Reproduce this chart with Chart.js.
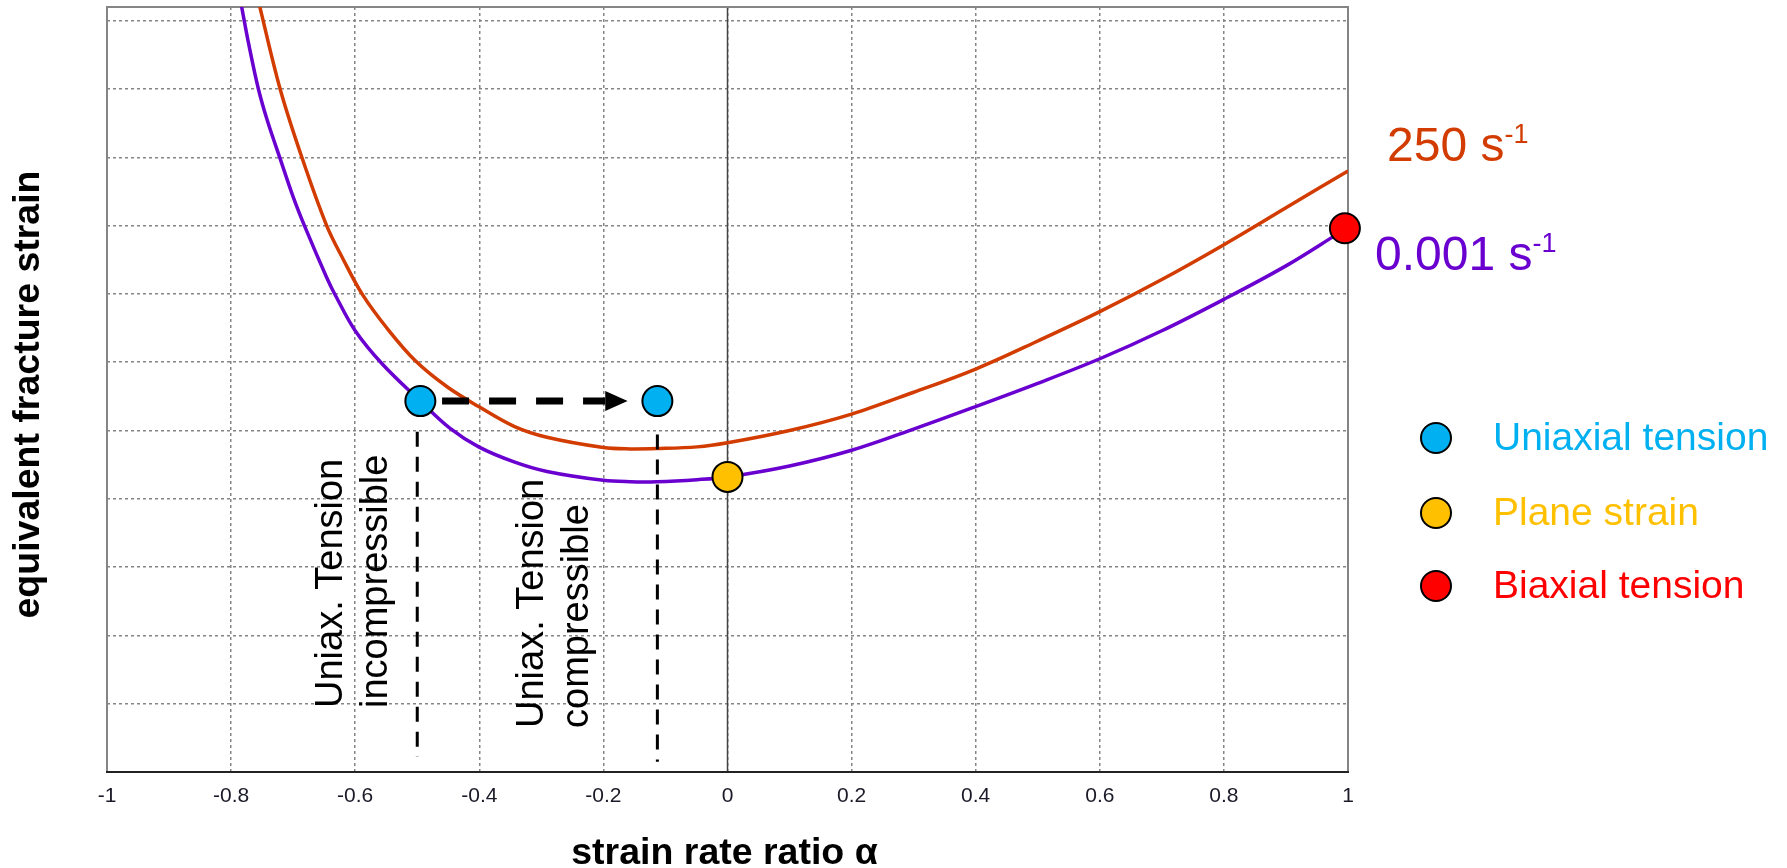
<!DOCTYPE html>
<html>
<head>
<meta charset="utf-8">
<script src="https://cdn.jsdelivr.net/npm/chart.js@4.4.1/dist/chart.umd.min.js"></script>
<style>
  html, body { margin: 0; padding: 0; background: #fff; }
  #wrap { width: 1787px; height: 868px; }
</style>
</head>
<body>
<div id="wrap"><canvas id="chart" width="1787" height="868"></canvas></div>
<script>
// curves: strain rate ratio alpha vs equivalent fracture strain (grid units)
const alphaSlow = [-0.784, -0.771, -0.756, -0.742, -0.721, -0.70, -0.681, -0.646, -0.632, -0.60, -0.556,
  -0.495, -0.447, -0.401, -0.344, -0.291, -0.2, -0.157, -0.114, -0.049, 0, 0.1, 0.2, 0.3, 0.4, 0.5,
  0.6, 0.7, 0.8, 0.9, 0.98, 0.995];
const strainSlow = [11.25, 10.63, 10.0, 9.55, 8.98, 8.42, 7.98, 7.24, 6.98, 6.46, 5.97,
  5.43, 5.03, 4.76, 4.54, 4.40, 4.27, 4.25, 4.25, 4.28, 4.32, 4.48, 4.71, 5.02, 5.35, 5.69,
  6.05, 6.46, 6.92, 7.41, 7.86, 7.95];

const alphaFast = [-0.755, -0.721, -0.686, -0.646, -0.619, -0.589, -0.549, -0.503, -0.452, -0.401, -0.344,
  -0.291, -0.2, -0.157, -0.114, -0.049, 0, 0.1, 0.2, 0.3, 0.4, 0.5, 0.6, 0.7, 0.8, 0.9, 1.0];
const strainFast = [11.25, 10.0, 9.0, 8.0, 7.5, 7.0, 6.5, 6.02, 5.64, 5.35, 5.06,
  4.90, 4.75, 4.73, 4.735, 4.76, 4.82, 5.0, 5.24, 5.56, 5.90, 6.31, 6.74, 7.21, 7.72, 8.26, 8.80];

// marked loading states
const uniaxialAlpha = [-0.495, -0.113];
const uniaxialStrain = [5.43, 5.43];
const planeAlpha = [0];
const planeStrain = [4.32];
const biaxialAlpha = [0.995];
const biaxialStrain = [7.96];

// dashed guides and the shift arrow
const guideLeftAlpha = [-0.5, -0.5];
const guideLeftStrain = [4.98, 0.22];
const guideRightAlpha = [-0.113, -0.113];
const guideRightStrain = [4.94, 0.15];
const arrowAlpha = [-0.46, -0.197];
const arrowStrain = [5.43, 5.43];
const arrowTipAlpha = -0.161;

const xTickValues = [-1, -0.8, -0.6, -0.4, -0.2, 0, 0.2, 0.4, 0.6, 0.8, 1];
const xTickLabels = ['-1', '-0.8', '-0.6', '-0.4', '-0.2', '0', '0.2', '0.4', '0.6', '0.8', '1'];
const yGridValues = [1, 2, 3, 4, 5, 6, 7, 8, 9, 10, 11];

const rateLabels = ['250', '0.001'];
const legendLabels = ['Uniaxial tension', 'Plane strain', 'Biaxial tension'];

const PURPLE = '#6A00D0';
const ORANGE = '#D23C00';
const BLUE = '#00B0F0';
const YELLOW = '#FFC000';
const RED = '#FF0000';
const GRID = '#858585';
const SANS = '"Liberation Sans", Arial, sans-serif';

const pts = (xs, ys) => xs.map((x, i) => ({ x: x, y: ys[i] }));

function marker(label, xs, ys, color) {
  return {
    label: label, data: pts(xs, ys), backgroundColor: color, borderColor: '#000',
    borderWidth: 2, pointRadius: 15, pointHoverRadius: 15, clip: false, order: 0
  };
}

function dashed(label, xs, ys, width, dash) {
  return {
    type: 'line', label: label, data: pts(xs, ys), borderColor: '#000', borderWidth: width,
    borderDash: dash, pointRadius: 0, fill: false, order: 1
  };
}

function curve(label, xs, ys, color) {
  return {
    type: 'line', label: label, data: pts(xs, ys), borderColor: color, borderWidth: 3.5,
    pointRadius: 0, fill: false, tension: 0.35, order: 2
  };
}

// plot frame and solid alpha = 0 line, under the data
const framePlugin = {
  id: 'frame',
  beforeDatasetsDraw(chart) {
    const { ctx, chartArea: a, scales } = chart;
    ctx.save();
    ctx.strokeStyle = '#444';
    ctx.lineWidth = 1.5;
    const x0 = scales.x.getPixelForValue(0);
    ctx.beginPath();
    ctx.moveTo(x0, a.top);
    ctx.lineTo(x0, a.bottom);
    ctx.stroke();
    ctx.strokeStyle = GRID;
    ctx.lineWidth = 2;
    ctx.beginPath();
    ctx.moveTo(a.left, a.bottom);
    ctx.lineTo(a.left, a.top);
    ctx.lineTo(a.right, a.top);
    ctx.lineTo(a.right, a.bottom);
    ctx.stroke();
    ctx.strokeStyle = '#222';
    ctx.beginPath();
    ctx.moveTo(a.left - 1, a.bottom);
    ctx.lineTo(a.right + 1, a.bottom);
    ctx.stroke();
    ctx.restore();
  }
};

function rateLabel(ctx, text, x, y, color) {
  ctx.fillStyle = color;
  ctx.font = '48px ' + SANS;
  ctx.textAlign = 'left';
  ctx.textBaseline = 'alphabetic';
  const main = text + ' s';
  ctx.fillText(main, x, y);
  const w = ctx.measureText(main).width;
  ctx.font = '27px ' + SANS;
  ctx.fillText('-1', x + w, y - 18);
}

function verticalText(ctx, lines, baseX, startY, gap) {
  ctx.save();
  ctx.fillStyle = '#000';
  ctx.font = '38px ' + SANS;
  ctx.textAlign = 'left';
  ctx.textBaseline = 'alphabetic';
  lines.forEach((t, i) => {
    ctx.save();
    ctx.translate(baseX + i * gap, startY);
    ctx.rotate(-Math.PI / 2);
    ctx.fillText(t, 0, 0);
    ctx.restore();
  });
  ctx.restore();
}

const annotationPlugin = {
  id: 'annotations',
  afterDatasetsDraw(chart) {
    const { ctx, scales } = chart;
    const xs = scales.x, ys = scales.y;
    // arrow head
    const tipX = xs.getPixelForValue(arrowTipAlpha);
    const baseX = xs.getPixelForValue(arrowAlpha[1]);
    const ay = ys.getPixelForValue(arrowStrain[1]);
    ctx.save();
    ctx.fillStyle = '#000';
    ctx.beginPath();
    ctx.moveTo(tipX, ay);
    ctx.lineTo(baseX, ay - 10);
    ctx.lineTo(baseX, ay + 10);
    ctx.closePath();
    ctx.fill();
    ctx.restore();
  },
  afterDraw(chart) {
    const { ctx, scales, chartArea: a } = chart;
    const xs = scales.x;
    ctx.save();

    // axis titles
    ctx.fillStyle = '#000';
    ctx.font = 'bold 37.5px ' + SANS;
    ctx.textAlign = 'center';
    ctx.textBaseline = 'alphabetic';
    ctx.fillText('strain rate ratio \u03b1', (a.left + a.right) / 2 - 3, 864);
    ctx.save();
    ctx.translate(39, (a.top + a.bottom) / 2 + 5);
    ctx.rotate(-Math.PI / 2);
    ctx.font = 'bold 37.5px ' + SANS;
    ctx.fillText('equivalent fracture strain', 0, 0);
    ctx.restore();

    // rotated labels next to the guides
    const gl = xs.getPixelForValue(guideLeftAlpha[0]);
    const gr = xs.getPixelForValue(guideRightAlpha[0]);
    verticalText(ctx, ['Uniax. Tension', 'incompressible'], gl - 75, 708, 45);
    verticalText(ctx, ['Uniax. Tension', 'compressible'], gr - 114, 728, 45);

    // strain rate labels
    rateLabel(ctx, rateLabels[0], a.right + 39, 161, ORANGE);
    rateLabel(ctx, rateLabels[1], a.right + 27, 270, PURPLE);

    // legend
    const colors = [BLUE, YELLOW, RED];
    const rows = [438, 513, 586];
    legendLabels.forEach((t, i) => {
      ctx.beginPath();
      ctx.arc(1436, rows[i], 15, 0, Math.PI * 2);
      ctx.fillStyle = colors[i];
      ctx.fill();
      ctx.lineWidth = 2;
      ctx.strokeStyle = '#000';
      ctx.stroke();
      ctx.fillStyle = colors[i];
      ctx.font = '39px ' + SANS;
      ctx.textAlign = 'left';
      ctx.textBaseline = 'alphabetic';
      ctx.fillText(t, 1493, rows[i] + 12);
    });
    ctx.restore();
  }
};

new Chart(document.getElementById('chart'), {
  type: 'scatter',
  data: {
    datasets: [
      marker('Uniaxial tension', uniaxialAlpha, uniaxialStrain, BLUE),
      marker('Plane strain', planeAlpha, planeStrain, YELLOW),
      marker('Biaxial tension', biaxialAlpha, biaxialStrain, RED),
      dashed('shift', arrowAlpha, arrowStrain, 7, [27, 20]),
      dashed('guide incompressible', guideLeftAlpha, guideLeftStrain, 3, [15, 10]),
      dashed('guide compressible', guideRightAlpha, guideRightStrain, 3, [15, 10]),
      curve('0.001 s-1', alphaSlow, strainSlow, PURPLE),
      curve('250 s-1', alphaFast, strainFast, ORANGE)
    ]
  },
  options: {
    responsive: false,
    animation: false,
    layout: { autoPadding: false, padding: { left: 107, right: 439, top: 7, bottom: 0 } },
    plugins: { legend: { display: false }, tooltip: { enabled: false } },
    scales: {
      x: {
        type: 'linear', min: -1, max: 1,
        afterBuildTicks: s => { s.ticks = xTickValues.map(v => ({ value: v })); },
        afterFit: s => { s.height = 96; },
        ticks: {
          callback: (v, i) => xTickLabels[i],
          font: { family: '"Liberation Sans Narrow", "Arial Narrow", "Liberation Sans", sans-serif', size: 21 },
          color: '#1a1a28', padding: 12, maxRotation: 0, autoSkip: false
        },
        grid: { color: GRID, lineWidth: 1.5, drawTicks: false },
        border: { display: false, dash: [3, 3] }
      },
      y: {
        type: 'linear', min: 0, max: 11.2,
        afterBuildTicks: s => { s.ticks = yGridValues.map(v => ({ value: v })); },
        afterFit: s => { s.width = 0; },
        ticks: { display: false },
        grid: { color: GRID, lineWidth: 1.5, drawTicks: false },
        border: { display: false, dash: [3, 3] }
      }
    }
  },
  plugins: [framePlugin, annotationPlugin]
});
</script>
</body>
</html>
